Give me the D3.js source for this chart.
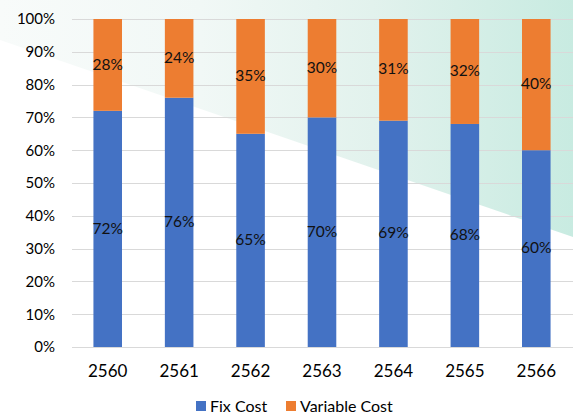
<!DOCTYPE html>
<html>
<head>
<meta charset="utf-8">
<script src="https://cdn.jsdelivr.net/npm/d3@7"></script>
<style>
  body { margin: 0; background: #fff; }
  svg { display: block; font-family: Lato, "Open Sans", sans-serif; }
  .grid line { stroke: #d9d9d9; stroke-width: 1; }
  .tick-label { fill: #000; }
  .bar-label { fill: #111; font-size: 15.5px; }
</style>
</head>
<body>
<div class="chart-container"></div>
<script>
var years = ['2560', '2561', '2562', '2563', '2564', '2565', '2566'];
var fixCost = [72, 76, 65, 70, 69, 68, 60];
var variableCost = [28, 24, 35, 30, 31, 32, 40];
var yTicks = [0, 10, 20, 30, 40, 50, 60, 70, 80, 90, 100];
var seriesNames = ['Fix Cost', 'Variable Cost'];
var seriesColors = ['#4472c4', '#ed7d31'];

var width = 573;
var height = 414;

var svg = d3.select('.chart-container').append('svg')
  .attr('width', width)
  .attr('height', height);

// background wash, teal on the right above a diagonal
var defs = svg.append('defs');
var grad = defs.append('linearGradient')
  .attr('id', 'wash')
  .attr('x1', '0%').attr('x2', '100%')
  .attr('y1', '0%').attr('y2', '0%');
grad.append('stop').attr('offset', '0%').attr('stop-color', '#f8fbfa');
grad.append('stop').attr('offset', '35%').attr('stop-color', '#f1f8f6');
grad.append('stop').attr('offset', '65%').attr('stop-color', '#e2f2ed');
grad.append('stop').attr('offset', '100%').attr('stop-color', '#c8ebe1');

svg.append('path')
  .attr('d', 'M0,0 L' + width + ',0 L' + width + ',237 L0,40 Z')
  .attr('fill', 'url(#wash)');

var x = d3.scaleBand()
  .domain(years)
  .range([72, 572])
  .paddingInner(0.6)
  .paddingOuter(0.3);

var y = d3.scaleLinear()
  .domain([0, 100])
  .range([347, 19]);

// gridlines
svg.append('g')
  .attr('class', 'grid')
  .selectAll('line')
  .data(yTicks)
  .enter()
  .append('line')
    .attr('x1', 72)
    .attr('x2', width)
    .attr('y1', function (d) { return Math.round(y(d)) + 0.5; })
    .attr('y2', function (d) { return Math.round(y(d)) + 0.5; });

// y tick labels
svg.append('g')
  .selectAll('text')
  .data(yTicks)
  .enter()
  .append('text')
    .attr('class', 'tick-label')
    .attr('x', 55)
    .attr('y', function (d) { return y(d); })
    .attr('dy', '0.36em')
    .attr('text-anchor', 'end')
    .style('font-size', '15px')
    .text(function (d) { return d + '%'; });

// stacked data
var rows = years.map(function (yr, i) {
  return { year: yr, fix: fixCost[i], variable: variableCost[i] };
});
var stack = d3.stack().keys(['fix', 'variable'])(rows);

var layers = svg.selectAll('.layer')
  .data(stack)
  .enter()
  .append('g')
    .attr('class', 'layer')
    .attr('fill', function (d, i) { return seriesColors[i]; });

layers.selectAll('rect')
  .data(function (d) { return d; })
  .enter()
  .append('rect')
    .attr('x', function (d) { return x(d.data.year); })
    .attr('width', x.bandwidth())
    .attr('y', function (d) { return y(Math.min(d[1], 100)); })
    .attr('height', function (d) { return y(d[0]) - y(Math.min(d[1], 100)); });

// segment labels
layers.selectAll('.bar-label')
  .data(function (d) { return d; })
  .enter()
  .append('text')
    .attr('class', 'bar-label')
    .attr('text-anchor', 'middle')
    .attr('x', function (d) { return x(d.data.year) + x.bandwidth() / 2; })
    .attr('y', function (d) { return (y(d[0]) + y(Math.min(d[1], 100))) / 2; })
    .attr('dy', '0.3em')
    .text(function (d) { return (d[1] - d[0]) + '%'; });

// x labels
svg.append('g')
  .selectAll('text')
  .data(years)
  .enter()
  .append('text')
    .attr('class', 'tick-label')
    .attr('x', function (d) { return x(d) + x.bandwidth() / 2; })
    .attr('y', 377)
    .attr('text-anchor', 'middle')
    .style('font-size', '17px')
    .text(function (d) { return d; });

// legend
var legendX = [196, 286];
var legend = svg.append('g')
  .selectAll('g')
  .data(seriesNames)
  .enter()
  .append('g')
    .attr('transform', function (d, i) { return 'translate(' + legendX[i] + ',401)'; });

legend.append('rect')
  .attr('width', 10)
  .attr('height', 10)
  .attr('fill', function (d, i) { return seriesColors[i]; });

legend.append('text')
  .attr('x', 14)
  .attr('y', 11)
  .style('font-size', '16px')
  .attr('fill', '#000')
  .text(function (d) { return d; });
</script>
</body>
</html>
